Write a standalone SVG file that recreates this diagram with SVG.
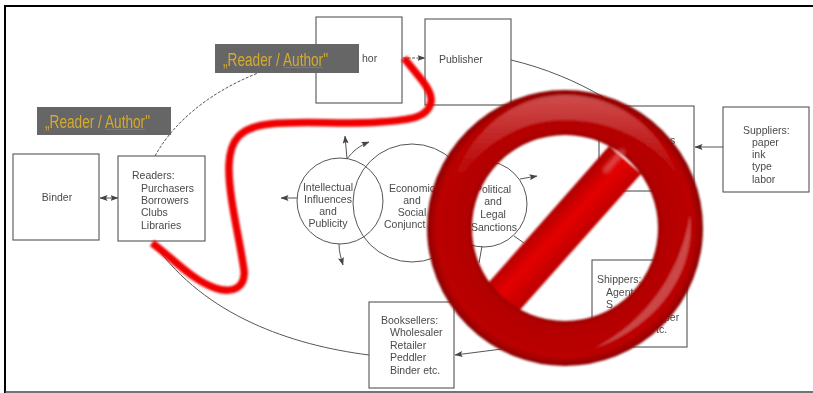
<svg xmlns="http://www.w3.org/2000/svg" width="813" height="393" viewBox="0 0 813 393">
<style>
.box{fill:#fff;stroke:#555;stroke-width:1.1}
.circ{fill:none;stroke:#555;stroke-width:1}
.ln{fill:none;stroke:#555;stroke-width:1}
.dash{fill:none;stroke:#555;stroke-width:1;stroke-dasharray:3 1.5}
.t{font-family:"Liberation Sans",Arial,sans-serif;font-size:10.5px;fill:#4a4a4a}
.m{text-anchor:middle}
.lab{fill:#666}
.lt{font-family:"Liberation Sans",Arial,sans-serif;font-size:18px;fill:#d6aa2e}
.ul{fill:none;stroke:#b5694f;stroke-width:.9}
</style>
<defs>
<marker id="a" viewBox="0 0 8 6" refX="7.500" refY="3" markerWidth="8" markerHeight="6" markerUnits="userSpaceOnUse" orient="auto-start-reverse"><path d="M0 0L8 3L0 6L1.500 3Z" fill="#444"/></marker>
<filter id="soft" filterUnits="userSpaceOnUse" x="0" y="0" width="813" height="393"><feGaussianBlur stdDeviation=".45"/></filter>
<filter id="soft2" filterUnits="userSpaceOnUse" x="0" y="0" width="813" height="393"><feGaussianBlur stdDeviation=".8"/></filter>
<filter id="hb" filterUnits="userSpaceOnUse" x="0" y="0" width="813" height="393"><feGaussianBlur stdDeviation="2"/></filter>
<radialGradient id="ring" gradientUnits="userSpaceOnUse" cx="565" cy="228" r="138">
<stop offset=".67" stop-color="#960000"/><stop offset=".71" stop-color="#b30000"/><stop offset=".93" stop-color="#bb0000"/><stop offset=".98" stop-color="#9a0000"/><stop offset="1" stop-color="#800000"/>
</radialGradient>
<linearGradient id="bar" gradientUnits="userSpaceOnUse" x1="549" y1="213" x2="581" y2="243">
<stop offset="0" stop-color="#b00000"/><stop offset=".45" stop-color="#e40000"/><stop offset="1" stop-color="#bd0000"/>
</linearGradient>
<linearGradient id="top" x1="0" y1="0" x2="0" y2="1">
<stop offset="0" stop-color="#fff" stop-opacity=".3"/><stop offset=".7" stop-color="#fff" stop-opacity=".03"/><stop offset="1" stop-color="#fff" stop-opacity="0"/>
</linearGradient>
</defs>
<rect width="813" height="393" fill="#fff"/>
<g filter="url(#soft)">
<g id="connectors">
<path class="dash" d="M155 156C176 118 215 90 258 73"/>
<path class="ln" d="M511 60C545 68 578 82 603 97"/>
<path class="ln" d="M155 245C205 315 290 345 369 355"/>
<path class="ln" d="M502 349L455 355" marker-end="url(#a)"/>
<path class="dash" d="M403 58H425" marker-end="url(#a)"/>
<path class="ln" d="M100 198H118" marker-start="url(#a)" marker-end="url(#a)"/>
<path class="ln" d="M723 147H695" marker-end="url(#a)"/>
<path class="ln" d="M347 159L345 136" marker-end="url(#a)"/>
<path class="ln" d="M347 159C353 151 359 146 369 142" marker-end="url(#a)"/>
<path class="ln" d="M297 198H281" marker-end="url(#a)"/>
<path class="ln" d="M339 244C339 252 341 258 343 265" marker-end="url(#a)"/>
<path class="ln" d="M520 179L537 176" marker-end="url(#a)"/>
<path class="ln" d="M482 246L479 263"/>
<path class="ln" d="M514 236L524 243"/>
</g>
<g id="author"><rect class="box" x="316" y="17" width="86" height="86"/><text class="t" x="362" y="62">hor</text></g>
<g id="publisher"><rect class="box" x="425" y="19" width="86" height="86"/><text class="t" x="439" y="63">Publisher</text></g>
<g id="binder"><rect class="box" x="13" y="154" width="86" height="86"/><text class="t m" x="57" y="201">Binder</text></g>
<g id="readers"><rect class="box" x="118" y="156" width="87" height="85"/>
<text class="t" x="132" y="179">Readers:</text><text class="t" x="141" y="192">Purchasers</text><text class="t" x="141" y="204">Borrowers</text><text class="t" x="141" y="216">Clubs</text><text class="t" x="141" y="229">Libraries</text></g>
<g id="printer"><rect class="box" x="599" y="106" width="95" height="85"/><text class="t" x="670" y="144">s</text></g>
<g id="suppliers"><rect class="box" x="723" y="107" width="86" height="85"/>
<text class="t" x="743" y="134">Suppliers:</text><text class="t" x="752" y="146">paper</text><text class="t" x="752" y="158">ink</text><text class="t" x="752" y="170">type</text><text class="t" x="752" y="183">labor</text></g>
<g id="booksellers"><rect class="box" x="369" y="302" width="85" height="86"/>
<text class="t" x="381" y="324">Booksellers:</text><text class="t" x="390" y="336">Wholesaler</text><text class="t" x="390" y="349">Retailer</text><text class="t" x="390" y="361">Peddler</text><text class="t" x="390" y="374">Binder etc.</text></g>
<g id="shippers"><rect class="box" x="592" y="260" width="95" height="87"/>
<text class="t" x="597" y="283">Shippers:</text><text class="t" x="606" y="296">Agent</text><text class="t" x="606" y="308">S</text><text class="t" x="664" y="321">per</text><text class="t" x="656" y="333">tc.</text></g>
<g id="intellectual"><circle class="circ" cx="340" cy="201" r="43"/>
<text class="t m" x="328" y="191">Intellectual</text><text class="t m" x="328" y="203">Influences</text><text class="t m" x="328" y="215">and</text><text class="t m" x="328" y="227">Publicity</text></g>
<g id="economic"><circle class="circ" cx="412" cy="203" r="59"/>
<text class="t m" x="412" y="192">Economic</text><text class="t m" x="412" y="204">and</text><text class="t m" x="412" y="216">Social</text><text class="t" x="384" y="228">Conjunct</text></g>
<g id="political"><circle class="circ" cx="484" cy="204" r="43"/>
<text class="t m" x="493" y="193">Political</text><text class="t m" x="493" y="205">and</text><text class="t m" x="493" y="218">Legal</text><text class="t m" x="494" y="231">Sanctions</text></g>
</g>
<g id="label-top" filter="url(#soft)"><rect class="lab" x="215" y="44" width="144" height="29"/><text class="lt" x="223" y="66" textLength="105" lengthAdjust="spacingAndGlyphs">„Reader / Author"</text><path class="ul" d="M284 67.500H323"/></g>
<g id="label-left" filter="url(#soft)"><rect class="lab" x="37" y="107" width="134" height="28"/><text class="lt" x="45" y="128" textLength="105" lengthAdjust="spacingAndGlyphs">„Reader / Author"</text><path class="ul" d="M105 129.500H145"/></g>
<path id="red-curve" filter="url(#soft2)" d="M404 58C418 76 433 90 431 102C428 118 410 120 380 122C340 125 305 120 270 124C240 127 230 140 229 165C228 195 240 240 244 270C246 288 232 294 215 288C192 280 175 260 152 243" fill="none" stroke="#ef0000" stroke-width="7.500"/>
<g id="no-sign" filter="url(#soft2)">
<path d="M490 281L609 146L641 174L520 310L505 320L480 295Z" fill="url(#bar)"/>
<circle cx="565" cy="228" r="115.500" fill="none" stroke="url(#ring)" stroke-width="45"/>
<path d="M447 200C465 130 515 95 565 95C615 95 660 125 680 180C655 140 610 120 565 120C515 120 472 150 447 200Z" fill="url(#top)"/>
<path d="M606 170L622 152" stroke="#f08a8a" stroke-width="6" stroke-linecap="round" opacity=".55" filter="url(#hb)"/>
<path d="M690 215C696 270 660 325 595 348C645 322 680 275 690 215Z" fill="#fff" opacity=".28"/>
</g>
<g id="frame" fill="none">
<path d="M5 393V6H813" stroke="#000" stroke-width="2"/>
<path d="M5 392H813" stroke="#444" stroke-width="1.500"/>
</g>
</svg>
